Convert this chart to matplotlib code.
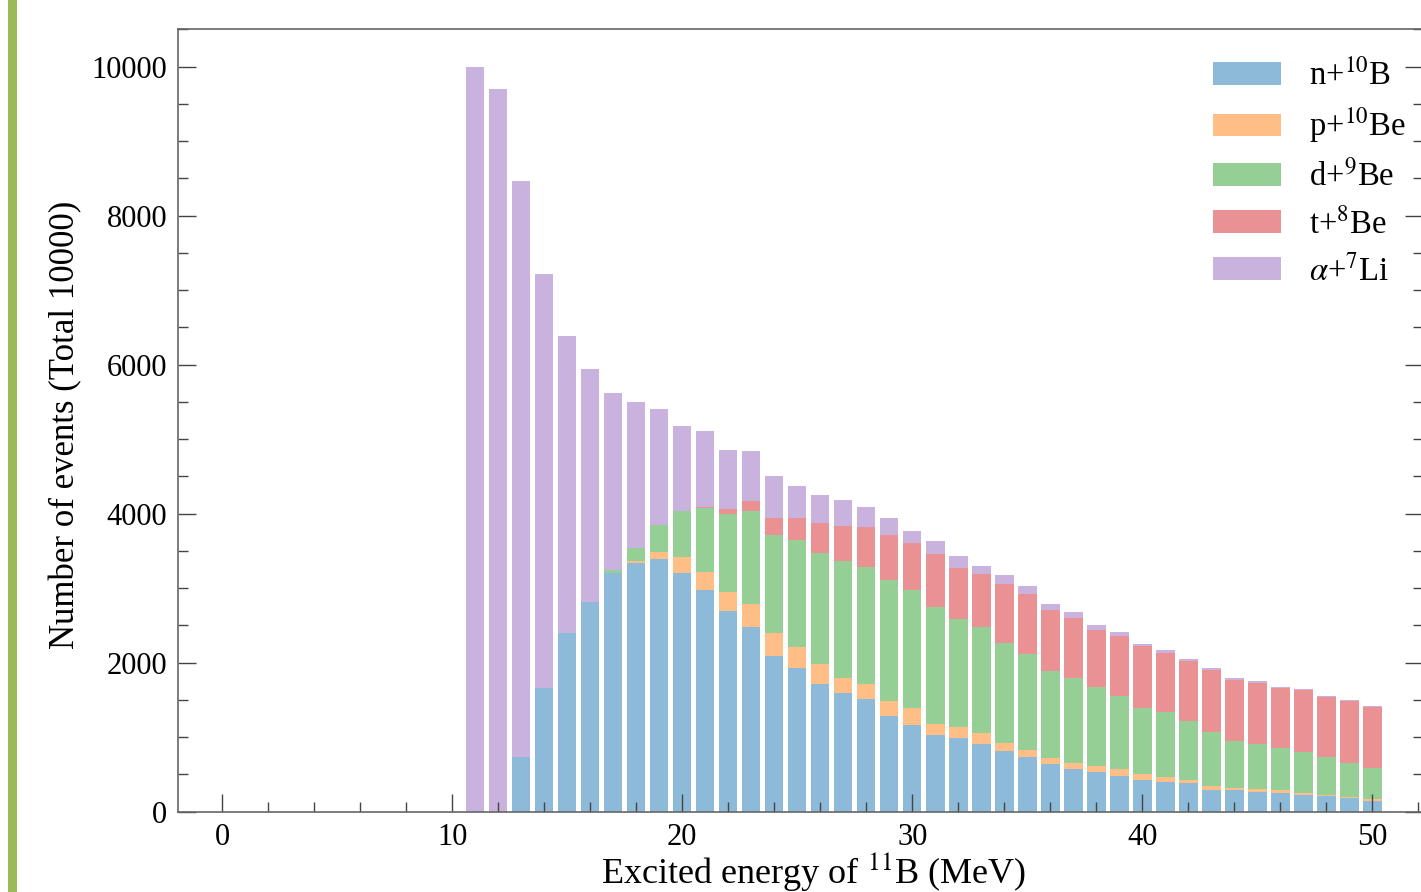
import numpy as np
import matplotlib
matplotlib.use("Agg")
import matplotlib.pyplot as plt
from matplotlib.ticker import MultipleLocator
from matplotlib.patches import Rectangle

plt.rcParams['font.family'] = ['Liberation Serif', 'DejaVu Serif']
plt.rcParams['mathtext.fontset'] = 'stix'

energy = list(range(11, 51))
n_10B = [0, 0, 740, 1660, 2400, 2820, 3210, 3340, 3390, 3200,
         2980, 2690, 2475, 2090, 1930, 1720, 1590, 1510, 1290, 1170,
         1030, 990, 910, 815, 730, 640, 570, 530, 485, 430,
         405, 380, 295, 290, 270, 250, 225, 205, 190, 150]
p_10Be = [0, 0, 0, 0, 0, 0, 0, 20, 100, 220,
          240, 260, 315, 305, 285, 260, 205, 210, 190, 220,
          150, 140, 150, 105, 100, 75, 90, 90, 85, 70,
          65, 50, 55, 30, 35, 40, 30, 25, 10, 25]
d_9Be = [0, 0, 0, 0, 0, 0, 30, 180, 355, 615,
         850, 1040, 1240, 1320, 1435, 1490, 1565, 1560, 1625, 1590,
         1570, 1460, 1415, 1350, 1290, 1175, 1130, 1060, 985, 885,
         870, 790, 715, 630, 600, 570, 540, 500, 450, 415]
t_8Be = [0, 0, 0, 0, 0, 0, 0, 0, 0, 0,
         20, 70, 135, 220, 285, 400, 470, 535, 605, 630,
         705, 685, 715, 790, 805, 820, 805, 760, 800, 835,
         785, 805, 835, 820, 820, 795, 840, 805, 830, 810]
a_7Li = [10000, 9700, 7720, 5560, 3990, 3120, 2380, 1960, 1565, 1140,
         1015, 790, 670, 575, 440, 380, 355, 270, 230, 160,
         175, 160, 105, 110, 100, 80, 80, 60, 50, 35,
         40, 30, 30, 20, 25, 25, 10, 15, 15, 20]

labels = [r'n+$^{10}$B', r'p+$^{10}$Be', r'd+$^{9}$Be', r't+$^{8}$Be', r'$\alpha$+$^{7}$Li']
colors = ['tab:blue', 'tab:orange', 'tab:green', 'tab:red', 'tab:purple']
series = [n_10B, p_10Be, d_9Be, t_8Be, a_7Li]

W, H = 1421, 892
fig = plt.figure(figsize=(W / 100, H / 100), dpi=100)

# green strip on the left edge
fig.patches.append(Rectangle((8.3 / W, 0), 8.4 / W, 1, transform=fig.transFigure,
                             facecolor='#9bbb59', edgecolor='none'))

left_px, right_px, top_px, bot_px = 178.3, 1423.1, 29.3, 811.7
ax = fig.add_axes([left_px / W, 1 - bot_px / H, (right_px - left_px) / W, (bot_px - top_px) / H])

bottom = np.zeros(len(energy))
for vals, lab, col in zip(series, labels, colors):
    ax.bar(energy, vals, width=0.8, bottom=bottom, color=col, alpha=0.5,
           label=lab, linewidth=0)
    bottom += np.array(vals)

ax.set_xlim(-1.9, 52.2)
ax.set_ylim(0, 10500)
ax.xaxis.set_major_locator(MultipleLocator(10))
ax.xaxis.set_minor_locator(MultipleLocator(2))
ax.yaxis.set_major_locator(MultipleLocator(2000))
ax.yaxis.set_minor_locator(MultipleLocator(500))

for s in ax.spines.values():
    s.set_color('#666666')
    s.set_linewidth(1.2)

ax.tick_params(which='both', direction='in', top=False, right=True, color='#444444', width=1.0)
ax.tick_params(which='major', length=13, labelsize=22, pad=8)
ax.tick_params(which='minor', length=7.5)

ax.set_xlabel(r'Excited energy of $^{11}$B (MeV)', fontsize=26)
ax.set_ylabel('Number of events (Total 10000)', fontsize=25)
ax.xaxis.set_label_coords(0.51, -0.049)
ax.yaxis.set_label_coords(-0.0768, 0.494)

fs = 23.5
leg = ax.legend(loc='upper left', bbox_to_anchor=(1206 / W, 1 - 53 / H),
                bbox_transform=fig.transFigure, frameon=False, fontsize=fs,
                handlelength=2.1, handleheight=0.7, handletextpad=0.86,
                labelspacing=0.45, borderpad=0.2, borderaxespad=0)

fig.savefig('out.png', dpi=100)
